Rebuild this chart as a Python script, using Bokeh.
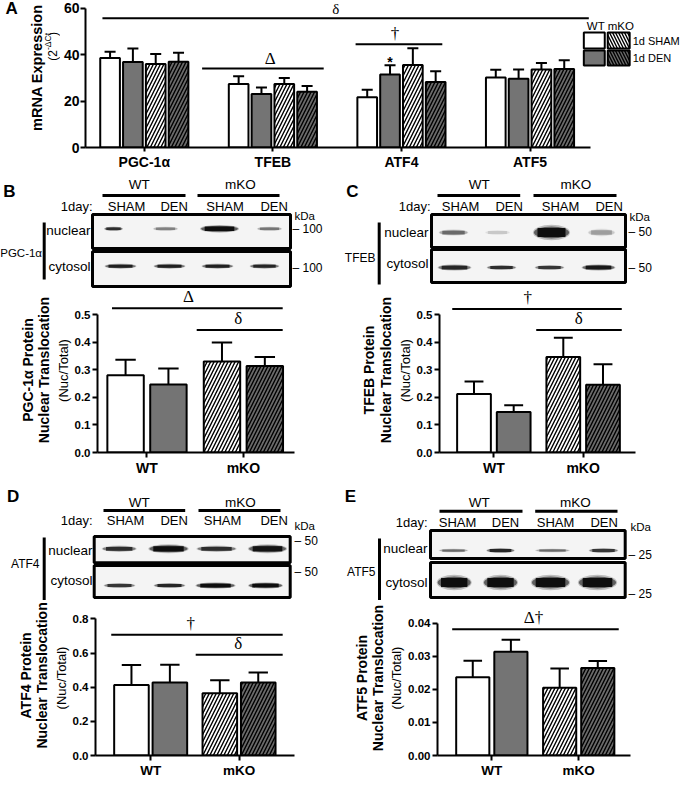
import math
from bokeh.plotting import figure
from bokeh.models import Range1d, FixedTicker, Label, PrintfTickFormatter
from bokeh.layouts import column, row
from bokeh.embed import file_html
from bokeh.resources import INLINE

SANS = "Liberation Sans"
SERIF = "Liberation Serif"

# ---------------- data ----------------
conditions = ["WT 1d SHAM", "WT 1d DEN", "mKO 1d SHAM", "mKO 1d DEN"]
genes = ["PGC-1α", "TFEB", "ATF4", "ATF5"]
mrna_wt_sham = [38.5, 27.4, 21.6, 30.2]
mrna_wt_den = [36.8, 23.0, 31.4, 29.6]
mrna_ko_sham = [36.0, 27.4, 35.5, 33.6]
mrna_ko_den = [36.9, 24.0, 28.2, 33.8]
mrna_wt_sham_err = [2.7, 3.3, 3.3, 3.3]
mrna_wt_den_err = [5.8, 2.8, 4.0, 4.0]
mrna_ko_sham_err = [4.3, 2.5, 7.2, 2.8]
mrna_ko_den_err = [3.9, 2.5, 4.6, 3.8]
mrna_yticks = [0, 20, 40, 60]

protein_groups = ["WT", "mKO"]
pgc_mean = [0.281, 0.247, 0.331, 0.314]
pgc_err = [0.056, 0.058, 0.069, 0.033]
tfeb_mean = [0.213, 0.147, 0.347, 0.246]
tfeb_err = [0.045, 0.025, 0.070, 0.075]
atf4_mean = [0.413, 0.428, 0.364, 0.428]
atf4_err = [0.117, 0.104, 0.077, 0.058]
atf5_mean = [0.0237, 0.0314, 0.0205, 0.0265]
atf5_err = [0.0050, 0.0036, 0.0058, 0.0021]
prot_yticks_05 = [0.0, 0.1, 0.2, 0.3, 0.4, 0.5]
prot_yticks_08 = [0.0, 0.2, 0.4, 0.6, 0.8]
prot_yticks_004 = [0.0, 0.01, 0.02, 0.03, 0.04]

# blot band intensities (relative; lanes WT SHAM, WT DEN, mKO SHAM, mKO DEN)
pgc_nuclear = [0.75, 0.35, 1.0, 0.40]
pgc_cytosol = [0.85, 0.85, 0.85, 0.80]
tfeb_nuclear = [0.45, 0.12, 1.0, 0.25]
tfeb_cytosol = [0.80, 0.75, 0.70, 0.90]
atf4_nuclear = [0.75, 1.0, 0.75, 0.95]
atf4_cytosol = [0.70, 0.80, 1.0, 1.0]
atf5_nuclear = [0.45, 0.80, 0.45, 0.70]
atf5_cytosol = [1.0, 1.0, 1.0, 1.0]
lane_labels = ["SHAM", "DEN", "SHAM", "DEN"]

GRAY = "#747474"
DARK = "#6a6a6a"
FILLS = ["white", GRAY, "white", DARK]
HATCH = [None, None, "right_diagonal_line", "right_diagonal_line"]


def add_label(p, x, y, text, size=12, bold=False, align="center", baseline="middle",
              font=SANS, angle=0.0):
    p.add_layout(Label(x=x, y=y, text=text, text_font=font, text_font_size=f"{size}px",
                       text_font_style="bold" if bold else "normal", text_align=align,
                       text_baseline=baseline, angle=angle, text_color="black"))


def make_fig(W, H, xr, yr, left=0, right=0, top=0, bottom=0, axes=True):
    kw = dict(width=int(W), height=int(H), x_range=Range1d(*xr), y_range=Range1d(*yr),
              output_backend="svg", toolbar_location=None,
              min_border_left=int(round(left)), min_border_right=int(round(right)),
              min_border_top=int(round(top)), min_border_bottom=int(round(bottom)))
    if not axes:
        kw.update(x_axis_type=None, y_axis_type=None)
    p = figure(**kw)
    p.outline_line_color = None
    p.background_fill_color = "white"
    p.border_fill_color = "white"
    if axes:
        p.xgrid.visible = False
        p.ygrid.visible = False
    return p


def canvas(W, H):
    return make_fig(W, H, (0, W), (H, 0), axes=False)


def style_axes(p, ytick_size, xtick_size, standoff=2):
    for ax in p.axis:
        ax.axis_line_width = 2
        ax.axis_line_color = "black"
        ax.major_tick_line_width = 2
        ax.major_tick_in = 0
        ax.major_tick_out = 5
        ax.minor_tick_line_color = None
        ax.major_label_text_font = SANS
        ax.major_label_text_font_style = "bold"
        ax.major_label_text_color = "black"
        ax.major_label_standoff = standoff
    p.yaxis.major_label_text_font_size = f"{ytick_size}px"
    p.xaxis.major_label_text_font_size = f"{xtick_size}px"


def draw_bar(p, x, top, err, w, style_i, lw=2):
    kw = dict(fill_color=FILLS[style_i], line_color="black", line_width=lw)
    if HATCH[style_i]:
        kw.update(hatch_pattern=HATCH[style_i], hatch_color="black", hatch_scale=7,
                  hatch_weight=1.4)
    tops = [t + e for t, e in zip(top, err)]
    p.segment(x0=x, y0=top, x1=x, y1=tops, line_color="black", line_width=lw)
    p.segment(x0=[v - w * 0.28 for v in x], y0=tops, x1=[v + w * 0.28 for v in x], y1=tops,
              line_color="black", line_width=lw)
    p.vbar(x=x, top=top, width=w, bottom=0, **kw)


# ---------------- panel A ----------------
WA, HA, CWA = 681, 175, 60
flA, y0A, ypA, c0A, uA = 83 - CWA, 147, 2.3217, 142 - CWA, 129
stepA, bwA = 0.1775, 0.153
dxA = lambda px: (px - CWA - c0A) / uA   # px in full-row coordinates
dyA = lambda py: (y0A - py) / ypA
cA = canvas(CWA, HA)
add_label(cA, 5, 10, "A", size=17, bold=True, align="left")
add_label(cA, 36, 80, "mRNA Expression", size=14.5, bold=True, angle=math.pi / 2)
add_label(cA, 52, 58.9, "(2", size=12, align="right", angle=math.pi / 2)
add_label(cA, 47.5, 58.9, "-ΔCt", size=8.5, align="left", angle=math.pi / 2)
add_label(cA, 52, 42.4, ")", size=12, align="left", angle=math.pi / 2)

pA = make_fig(WA - CWA, HA, (dxA(83), dxA(WA)), (0, y0A / ypA), left=flA, right=0, top=0,
              bottom=HA - y0A)
series = [mrna_wt_sham, mrna_wt_den, mrna_ko_sham, mrna_ko_den]
series_err = [mrna_wt_sham_err, mrna_wt_den_err, mrna_ko_sham_err, mrna_ko_den_err]
for j in range(4):
    xs = [g + (j - 1.5) * stepA for g in range(len(genes))]
    draw_bar(pA, xs, series[j], series_err[j], bwA, j, lw=2)
style_axes(pA, 14, 14, standoff=1)
pA.xaxis.major_tick_out = 4
pA.xaxis.major_label_standoff = 2
pA.yaxis.ticker = FixedTicker(ticks=mrna_yticks)
pA.yaxis.bounds = (0, mrna_yticks[-1])
pA.xaxis.ticker = FixedTicker(ticks=list(range(len(genes))))
pA.xaxis.major_label_overrides = {i: g for i, g in enumerate(genes)}
pA.xaxis.bounds = (dxA(83), dxA(590))

sigA = [("δ", dxA(100), dxA(588), 55.7, 1.49, 15), ("Δ", dxA(200), dxA(322), 34.0, 0.98, 17),
        ("†", dxA(354), dxA(441), 44.5, 1.95, 17)]
for sym, x0, x1, yl, tx, fs in sigA:
    pA.segment(x0=[x0], y0=[yl], x1=[x1], y1=[yl], line_color="black", line_width=2)
    add_label(pA, tx, yl + 1 / ypA, sym, size=fs, font=SERIF, baseline="bottom")
xa = 2 + (1 - 1.5) * stepA
add_label(pA, xa, mrna_wt_den[2] + mrna_wt_den_err[2] + 3 / ypA, "*", size=14, bold=True)

# legend
add_label(pA, dxA(586), dyA(25), "WT mKO", size=11.5, align="left")
leg_rows = [(32, 48, "1d SHAM", 0, 2), (50, 65, "1d DEN", 1, 3)]
for ytop, ybot, txt, s1, s2 in leg_rows:
    pA.quad(left=[dxA(583)], right=[dxA(604)], top=[dyA(ytop)], bottom=[dyA(ybot)],
            fill_color=FILLS[s1], line_color="black", line_width=2)
    pA.quad(left=[dxA(607)], right=[dxA(629)], top=[dyA(ytop)], bottom=[dyA(ybot)],
            fill_color=FILLS[s2], line_color="black", line_width=2,
            hatch_pattern="left_diagonal_line", hatch_color="black", hatch_scale=6,
            hatch_weight=1.4)
    add_label(pA, dxA(632), dyA((ytop + ybot) / 2), txt, size=11, align="left")


# ---------------- protein bar charts ----------------
def protein_chart(W, H, cw, fl, fr, y0px, ypp, c0, u, pos, bw, means, errs, yticks, fmt,
                  xticks, sigs, titles, tcy, xlab=14):
    cv = canvas(cw, H)
    for text, xpx in titles:
        add_label(cv, xpx, tcy, text, size=14, bold=True, angle=math.pi / 2)
    Wc = W - cw
    fl2, fr2, c02 = fl - cw, fr - cw, c0 - cw
    dx = lambda px: (px - c02) / u
    p = make_fig(Wc, H, (dx(fl2), dx(fr2)), (0, y0px / ypp), left=fl2, right=Wc - fr2,
                 top=0, bottom=H - y0px)
    for i in range(4):
        draw_bar(p, [pos[i]], [means[i]], [errs[i]], bw, i, lw=2)
    style_axes(p, 11.5, xlab, standoff=2)
    p.yaxis.ticker = FixedTicker(ticks=yticks)
    p.yaxis.formatter = PrintfTickFormatter(format=fmt)
    p.yaxis.bounds = (0, yticks[-1])
    p.yaxis.axis_label = "(Nuc/Total)"
    p.yaxis.axis_label_text_font = SANS
    p.yaxis.axis_label_text_font_size = "13px"
    p.yaxis.axis_label_text_font_style = "normal"
    p.yaxis.axis_label_text_color = "black"
    p.yaxis.axis_label_standoff = 1
    p.xaxis.ticker = FixedTicker(ticks=xticks)
    p.xaxis.major_label_overrides = {xticks[0]: protein_groups[0], xticks[1]: protein_groups[1]}
    for sym, x0, x1, yl, tx in sigs:
        p.segment(x0=[x0], y0=[yl], x1=[x1], y1=[yl], line_color="black", line_width=2)
        add_label(p, tx, yl + 2 / ypp, sym, size=17, font=SERIF, baseline="bottom")
    return row(cv, p, spacing=0)


rB = protein_chart(340, 191, 52, 94, 294, 164, 275.2, 122.5, 43.5, [0, 1, 2.25, 3.25], 0.85,
                   pgc_mean, pgc_err, prot_yticks_05, "%.1f", [0.5, 2.75],
                   [("Δ", -0.317, 3.667, 0.524, 1.467), ("δ", 1.66, 3.667, 0.445, 2.632)],
                   [("PGC-1α Protein", 27), ("Nuclear Translocation", 43)], 95)
rC = protein_chart(341, 191, 54, 95, 295, 164, 275.2, 130.2, 40.5, [0, 1, 2.25, 3.25], 0.85,
                   tfeb_mean, tfeb_err, prot_yticks_05, "%.1f", [0.5, 2.75],
                   [("†", -0.548, 3.723, 0.521, 1.353), ("δ", 1.568, 3.723, 0.4455, 2.637)],
                   [("TFEB Protein", 28), ("Nuclear Translocation", 45)], 95)
rD = protein_chart(340, 180, 50, 92, 294, 157, 172.9, 128.5, 39, [0, 1, 2.3, 3.3], 0.9,
                   atf4_mean, atf4_err, prot_yticks_08, "%.1f", [0.5, 2.8],
                   [("†", -0.526, 3.936, 0.707, 1.544), ("δ", 1.672, 3.936, 0.59, 2.782)],
                   [("ATF4 Protein", 25), ("Nuclear Translocation", 41)], 87, xlab=13.5)
rE = protein_chart(341, 180, 46, 93, 290, 156, 3325, 129, 38.9, [0, 1, 2.28, 3.28], 0.87,
                   atf5_mean, atf5_err, prot_yticks_004, "%.2f", [0.5, 2.78],
                   [("Δ†", -0.54, 3.83, 0.0382, 1.594)],
                   [("ATF5 Protein", 21), ("Nuclear Translocation", 37)], 90, xlab=13.5)


# ---------------- blots ----------------
def bands(p, b, intens):
    n = len(intens)
    ys = [b["y"]] * n
    p.ellipse(x=b["x"], y=ys, width=[w * 1.06 for w in b["w"]],
              height=[h * 1.3 for h in b["h"]], fill_color="black",
              fill_alpha=[a * 0.22 for a in intens], line_color=None)
    p.ellipse(x=b["x"], y=ys, width=b["w"], height=[h * 1.0 for h in b["h"]],
              fill_color="black", fill_alpha=[a * 0.5 for a in intens], line_color=None)
    p.rect(x=b["x"], y=ys, width=[w * 0.8 for w in b["w"]], height=[h * 0.75 for h in b["h"]],
           fill_color="black", fill_alpha=[a * 0.85 for a in intens], line_color=None)


def blot(L, nuc, cyt):
    W, H = L["W"], L["H"]
    p = canvas(W, H)
    add_label(p, L["letter_xy"][0], L["letter_xy"][1], L["letter"], size=17, bold=True)
    for name, tx, lx0, lx1 in L["groups"]:
        add_label(p, tx, L["head_y"], name, size=13.5)
        p.segment(x0=[lx0], y0=[L["line_y"]], x1=[lx1], y1=[L["line_y"]],
                  line_color="black", line_width=3)
    add_label(p, L["day_x"], L["day_y"], "1day:", size=13, align="right")
    for lx, lt in zip(L["lane_x"], lane_labels):
        add_label(p, lx, L["day_y"], lt, size=13)
    add_label(p, L["kda"][0], L["kda"][1], "kDa", size=11.5, align="left")
    bx0, bx1 = L["box_x"]
    for (by0, by1) in (L["nbox_y"], L["cbox_y"]):
        p.quad(left=[bx0], right=[bx1], top=[by0], bottom=[by1], fill_color="#f4f4f4",
               line_color=None)
    bands(p, L["nb"], nuc)
    bands(p, L["cb"], cyt)
    for (by0, by1) in (L["nbox_y"], L["cbox_y"]):
        p.quad(left=[bx0], right=[bx1], top=[by0], bottom=[by1], fill_color=None,
               line_color="black", line_width=3)
    for my in L["mk_y"]:
        add_label(p, L["mk_x"], my, L["marker"], size=12, align="left")
    add_label(p, L["lab_x"], L["nlab_y"], "nuclear", size=13.5, align="right")
    add_label(p, L["lab_x"], L["clab_y"], "cytosol", size=13.5, align="right")
    add_label(p, L["prot_xy"][0], L["prot_xy"][1], L["prot"], size=L.get("prot_size", 12),
              align="right")
    vx, vy0, vy1 = L["vbar"]
    p.segment(x0=[vx], y0=[vy0], x1=[vx], y1=[vy1], line_color="black", line_width=3)
    return p


BLOT_B = dict(W=340, H=113, letter="B", letter_xy=(9, 16),
              groups=[("WT", 138.7, 102, 185), ("mKO", 240, 197, 279)], head_y=9, line_y=20,
              day_x=92, day_y=30.7, lane_x=[126, 173.7, 224.5, 273.7],
              kda=(294, 40), box_x=(92, 290), nbox_y=(39, 73), cbox_y=(76, 111),
              marker="– 100", mk_x=292, mk_y=(53, 92), nlab_y=55, clab_y=91, lab_x=90,
              prot="PGC-1α", prot_xy=(41.5, 77), prot_size=11.5, vbar=(43.7, 47, 104),
              nb=dict(y=53.3, x=[113, 165, 219, 269], w=[18, 24, 37, 24], h=[3.5, 3.5, 6, 3.5]),
              cb=dict(y=90.7, x=[120, 169, 217, 264], w=[30, 30, 30, 28], h=[4, 4, 4, 4]))
BLOT_C = dict(W=341, H=113, letter="C", letter_xy=(12, 16),
              groups=[("WT", 138.7, 97, 179.7), ("mKO", 235.3, 193, 276)], head_y=9, line_y=20,
              day_x=90, day_y=30.7, lane_x=[120, 168.7, 220, 268.7],
              kda=(289, 41), box_x=(91, 285), nbox_y=(39, 72), cbox_y=(74, 107),
              marker="– 50", mk_x=288, mk_y=(56, 92), nlab_y=57, clab_y=88, lab_x=88,
              prot="TFEB", prot_xy=(35, 82), vbar=(38.7, 47, 109),
              nb=dict(y=57, x=[113, 157, 211, 261], w=[28, 24, 35, 26], h=[5, 4, 12, 6]),
              cb=dict(y=92, x=[114, 161, 209, 258], w=[32, 28, 28, 32], h=[5, 4, 4, 5]))
BLOT_D = dict(W=340, H=121, letter="D", letter_xy=(12.7, 16.7),
              groups=[("WT", 138.7, 103, 184.7), ("mKO", 240, 198, 280)], head_y=22.7,
              line_y=31, day_x=92, day_y=41, lane_x=[125, 173.7, 222, 273.7],
              kda=(294, 46.7), box_x=(93.7, 289.7), nbox_y=(57, 83.3), cbox_y=(86, 118),
              marker="– 50", mk_x=294, mk_y=(61, 92.7), nlab_y=71, clab_y=101, lab_x=92,
              prot="ATF4", prot_xy=(39, 84), vbar=(43.7, 58, 121),
              nb=dict(y=69.3, x=[118.7, 168, 216, 267], w=[33, 38, 38, 37], h=[5, 7, 5, 7]),
              cb=dict(y=106, x=[119, 169, 215, 265], w=[30, 30, 38, 33], h=[4, 4, 5, 5]))
BLOT_E = dict(W=341, H=121, letter="E", letter_xy=(10, 16.7),
              groups=[("WT", 138.7, 99, 182), ("mKO", 235, 194.7, 277)], head_y=22.7,
              line_y=31.7, day_x=87, day_y=42.7, lane_x=[117, 165, 215, 263.7],
              kda=(290, 47.7), box_x=(90, 284.7), nbox_y=(51, 79), cbox_y=(83, 118),
              marker="– 25", mk_x=288, mk_y=(75.3, 114), nlab_y=69, clab_y=102.7, lab_x=87,
              prot="ATF5", prot_xy=(35, 92.7), vbar=(39, 59, 121),
              nb=dict(y=71, x=[113, 160, 212, 263], w=[28, 27, 33, 28], h=[3, 4, 3, 4]),
              cb=dict(y=103, x=[113.7, 160, 210, 257], w=[33, 33, 37, 37], h=[12, 12, 12, 12]))

bB = blot(BLOT_B, pgc_nuclear, pgc_cytosol)
bC = blot(BLOT_C, tfeb_nuclear, tfeb_cytosol)
bD = blot(BLOT_D, atf4_nuclear, atf4_cytosol)
bE = blot(BLOT_E, atf5_nuclear, atf5_cytosol)

layout = column(row(cA, pA, spacing=0), row(bB, bC, spacing=0), row(rB, rC, spacing=0),
                row(bD, bE, spacing=0), row(rD, rE, spacing=0), spacing=0)
open("out.html", "w").write(file_html(layout, INLINE))
